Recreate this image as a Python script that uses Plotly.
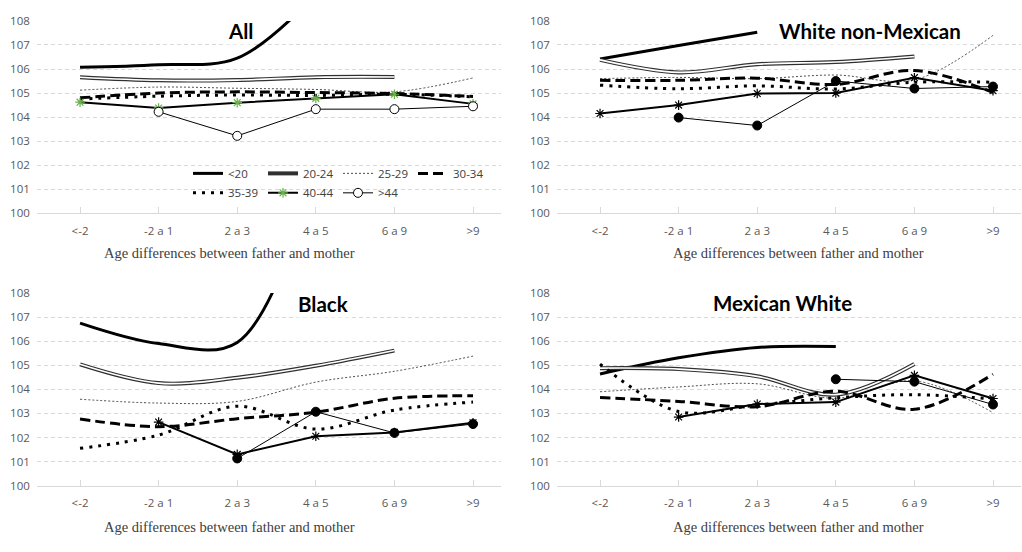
import plotly.graph_objects as go

categories = ["<-2", "-2 a 1", "2 a 3", "4 a 5", "6 a 9", ">9"]
groups = ["<20", "20-24", "25-29", "30-34", "35-39", "40-44", ">44"]
y_ticks = [100, 101, 102, 103, 104, 105, 106, 107, 108]

# All
all_lt20 = [106.07, 106.18, 106.45, 109.1, None, None]
all_20_24 = [105.66, 105.53, 105.54, 105.66, 105.67, None]
all_25_29 = [105.12, 105.25, 105.2, 105.15, 105.05, 105.63]
all_30_34 = [104.8, 105.0, 105.05, 105.02, 104.98, 104.86]
all_35_39 = [104.75, 104.87, 104.92, 104.9, 104.95, 104.84]
all_40_44 = [104.62, 104.38, 104.6, 104.78, 104.95, 104.55]
all_gt44 = [None, 104.22, 103.22, 104.33, 104.33, 104.45]

# White non-Mexican
wnm_lt20 = [106.42, 106.98, 107.53, None, None, None]
wnm_20_24 = [106.38, 105.86, 106.2, 106.29, 106.52, None]
wnm_25_29 = [105.6, 105.65, 105.6, 105.75, 105.55, 107.4]
wnm_30_34 = [105.53, 105.53, 105.62, 105.36, 105.94, 105.02]
wnm_35_39 = [105.33, 105.18, 105.3, 105.17, 105.45, 105.45]
wnm_40_44 = [104.15, 104.5, 104.98, 105.0, 105.64, 105.1]
wnm_gt44 = [None, 103.98, 103.65, 105.5, 105.19, 105.27]

# Black
blk_lt20 = [106.75, 105.9, 105.95, 113.0, None, None]
blk_20_24 = [105.04, 104.26, 104.48, 104.98, 105.61, None]
blk_25_29 = [103.59, 103.43, 103.5, 104.3, 104.75, 105.38]
blk_30_34 = [102.77, 102.45, 102.78, 103.05, 103.63, 103.73]
blk_35_39 = [101.55, 102.1, 103.3, 102.35, 103.14, 103.47]
blk_40_44 = [None, 102.64, 101.3, 102.05, 102.21, 102.61]
blk_gt44 = [None, None, 101.13, 103.07, 102.19, 102.56]

# Mexican White
mex_lt20 = [104.64, 105.31, 105.74, 105.78, None, None]
mex_20_24 = [104.88, 104.84, 104.54, 103.78, 105.05, None]
mex_25_29 = [103.9, 104.1, 104.23, 103.63, 104.35, 103.03]
mex_30_34 = [103.66, 103.5, 103.28, 103.92, 103.17, 104.63]
mex_35_39 = [105.05, 103.08, 103.35, 103.65, 103.78, 103.6]
mex_40_44 = [None, 102.85, 103.39, 103.47, 104.58, 103.62]
mex_gt44 = [None, None, None, 104.42, 104.32, 103.37]

panel_titles = ["All", "White non-Mexican", "Black", "Mexican White"]
panel_series = [
    [all_lt20, all_20_24, all_25_29, all_30_34, all_35_39, all_40_44, all_gt44],
    [wnm_lt20, wnm_20_24, wnm_25_29, wnm_30_34, wnm_35_39, wnm_40_44, wnm_gt44],
    [blk_lt20, blk_20_24, blk_25_29, blk_30_34, blk_35_39, blk_40_44, blk_gt44],
    [mex_lt20, mex_20_24, mex_25_29, mex_30_34, mex_35_39, mex_40_44, mex_gt44],
]
x_title = "Age differences between father and mother"

W, H = 1022, 552
xpos = list(range(len(categories)))

# pixel geometry of the four plot areas: (left, right, top, bottom)
boxes = [
    (36.8, 501.3, 13.3, 211.0),
    (556.8, 1021.3, 13.3, 211.0),
    (36.8, 501.3, 293.0, 491.0),
    (556.8, 1021.3, 293.0, 491.0),
]

TICKFONT = dict(family="Open Sans, Lato, sans-serif", size=11.5, color="#595959")

fig = go.Figure()

for p, series in enumerate(panel_series):
    xa = "x" if p == 0 else f"x{p+1}"
    ya = "y" if p == 0 else f"y{p+1}"
    first = p == 0
    for g, vals in enumerate(series):
        common = dict(x=xpos, y=vals, xaxis=xa, yaxis=ya, name=groups[g],
                      hoverinfo="x+y+name", connectgaps=False)
        if g == 0:
            fig.add_trace(go.Scatter(mode="lines", line=dict(color="black", width=3, shape="spline", smoothing=1),
                                     showlegend=first, legend="legend", **common))
        elif g == 1:
            fig.add_trace(go.Scatter(mode="lines", line=dict(color="#303030", width=4.0, shape="spline", smoothing=1),
                                     showlegend=first, legend="legend", **common))
            fig.add_trace(go.Scatter(mode="lines", line=dict(color="white", width=1.6, shape="spline", smoothing=1),
                                     showlegend=False, **common))
        elif g == 2:
            fig.add_trace(go.Scatter(mode="lines", line=dict(color="#222", width=0.8, dash="2px,2px", shape="spline", smoothing=1),
                                     showlegend=first, legend="legend", **common))
        elif g == 3:
            fig.add_trace(go.Scatter(mode="lines", line=dict(color="black", width=3, dash="10px,5px", shape="spline", smoothing=1),
                                     showlegend=first, legend="legend", **common))
        elif g == 4:
            fig.add_trace(go.Scatter(mode="lines", line=dict(color="black", width=3, dash="3px,6px", shape="spline", smoothing=1),
                                     showlegend=first, legend="legend2", **common))
        elif g == 5:
            mcol = "#6ab04c" if first else "black"
            fig.add_trace(go.Scatter(mode="lines+markers", line=dict(color="black", width=2),
                                     marker=dict(symbol="asterisk-open", size=8, color=mcol, line=dict(color=mcol, width=1.2)),
                                     showlegend=first, legend="legend2", **common))
        else:
            if first:
                mk = dict(symbol="circle", size=9, color="white", line=dict(color="black", width=1))
            else:
                mk = dict(symbol="circle", size=9, color="black", line=dict(color="black", width=1))
            fig.add_trace(go.Scatter(mode="lines+markers", line=dict(color="black", width=1),
                                     marker=mk, showlegend=first, legend="legend2", **common))

LEGFONT = dict(family="Open Sans, Lato, sans-serif", size=11.5, color="#404040")
layout = dict(
    width=W, height=H, margin=dict(l=0, r=0, t=0, b=0),
    paper_bgcolor="white", plot_bgcolor="white",
    showlegend=True,
    legend=dict(orientation="h", x=188 / W, y=1 - 170 / H, xanchor="left", yanchor="middle",
                entrywidth=30, itemwidth=30, bgcolor="rgba(0,0,0,0)", font=LEGFONT),
    legend2=dict(orientation="h", x=188 / W, y=1 - 190 / H, xanchor="left", yanchor="middle",
                 entrywidth=30, itemwidth=30, bgcolor="rgba(0,0,0,0)", font=LEGFONT),
    annotations=[],
)

for p, (l, r, t, b) in enumerate(boxes):
    sfx = "" if p == 0 else str(p + 1)
    layout["xaxis" + sfx] = dict(
        domain=[l / W, r / W], anchor="y" + sfx, range=[-0.55, 5.36],
        tickmode="array", tickvals=xpos, ticktext=categories,
        showgrid=False, zeroline=False, showline=True, linecolor="#d9d9d9", linewidth=1,
        ticks="inside", ticklen=6, tickcolor="#d9d9d9", tickfont=TICKFONT,
        ticklabelstandoff=7, fixedrange=True,
    )
    layout["yaxis" + sfx] = dict(
        domain=[1 - b / H, 1 - t / H], anchor="x" + sfx, range=[100, 108],
        tickmode="array", tickvals=y_ticks, showgrid=True, gridcolor="#d9d9d9", gridwidth=1,
        griddash="4px,3px", zeroline=False, showline=False, ticks="", tickfont=TICKFONT,
        ticklabelstandoff=6, fixedrange=True,
    )

title_pos = [(240, 24), (870, 24), (323, 304), (782, 303)]
for p, (tx, ty) in enumerate(title_pos):
    layout["annotations"].append(dict(
        text=f"<b>{panel_titles[p]}</b>", x=tx / W, y=1 - ty / H, xref="paper", yref="paper",
        xanchor="center", yanchor="middle", showarrow=False,
        font=dict(family="Lato, sans-serif", size=20.5, color="black"),
        bgcolor="white" if p < 3 else "rgba(0,0,0,0)", borderpad=1,
    ))

xt_pos = [(229, 252), (798, 252), (229, 533), (798, 533)]
for tx, ty in xt_pos:
    layout["annotations"].append(dict(
        text=x_title, x=tx / W, y=1 - ty / H, xref="paper", yref="paper",
        xanchor="center", yanchor="middle", showarrow=False,
        font=dict(family="Liberation Serif, serif", size=14.5, color="#404040"),
    ))

fig.update_layout(**layout)
fig.write_html("out.html")
